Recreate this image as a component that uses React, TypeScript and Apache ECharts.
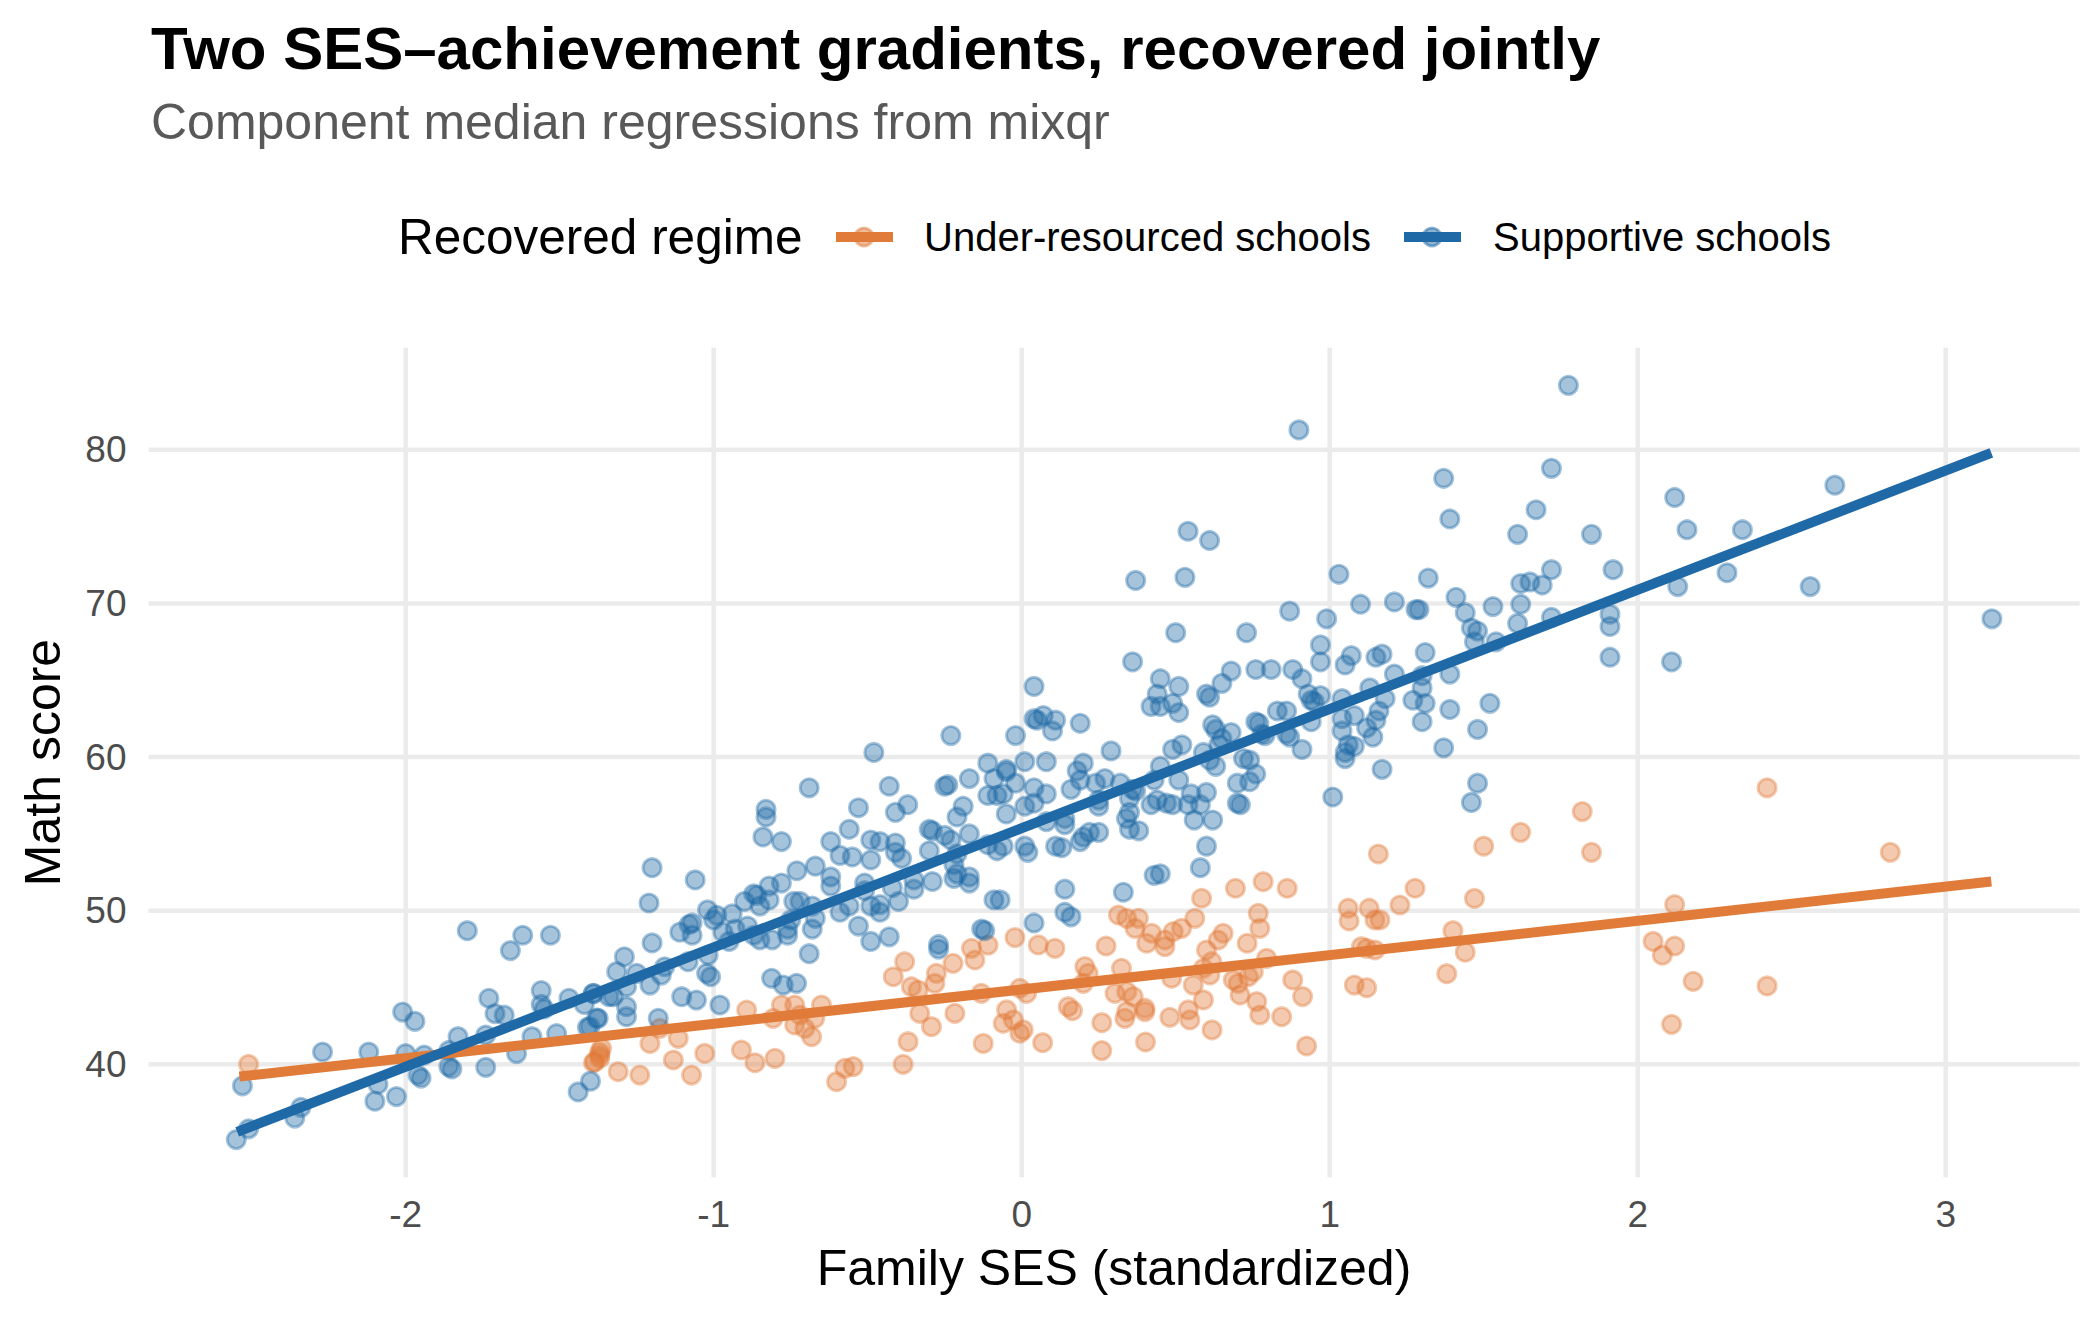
import React, { useEffect, useRef } from "react";
import * as echarts from "echarts";

// ---------- data ----------
const xTicks = [-2, -1, 0, 1, 2, 3];
const yTicks = [40, 50, 60, 70, 80];
const xRange = [-2.835, 3.435];
const yRange = [32.65, 86.65];

const seriesNames = ["Under-resourced schools", "Supportive schools"];

// Component median regression lines (end points)
const underResourcedFit: [number, number][] = [[-2.54, 39.2], [3.148, 51.9]];
const supportiveFit: [number, number][] = [[-2.547, 35.6], [3.148, 79.8]];

const underResourcedPoints: [number, number][] = [
  [-2.51, 40.0], [-1.39, 40.1], [-1.37, 40.8], [-1.37, 40.4],
  [-0.38, 46.68], [-0.417, 45.7], [-0.358, 45.05], [-0.336, 44.83], [-0.277, 45.92], [-0.282, 45.27],
  [-0.223, 46.57], [-0.163, 47.55], [-0.152, 46.79], [-0.109, 47.76], [-0.131, 44.62], [-0.331, 43.32],
  [-0.293, 42.45], [-0.217, 43.32], [-0.369, 41.47], [-0.385, 40.0], [-0.125, 41.36],
  [-0.574, 39.74], [-0.547, 39.85], [-0.601, 38.87], [-0.893, 43.53], [-0.807, 42.99], [-0.78, 43.86],
  [-0.737, 43.86], [-0.72, 43.21], [-0.737, 42.56], [-0.704, 42.34], [-0.682, 41.8], [-0.65, 43.86],
  [-0.672, 42.99], [-0.91, 40.93], [-0.866, 40.1], [-0.801, 40.39], [-1.029, 40.71], [-1.072, 39.3],
  [-1.131, 40.28], [-1.115, 41.69], [-1.175, 42.34], [-1.207, 41.36], [-1.24, 39.3], [-1.31, 39.52],
  [-1.364, 41.04], [-1.37, 40.6], [-1.386, 40.17],
  [-0.022, 48.25], [0.054, 47.77], [0.108, 47.55], [0.274, 47.7], [0.314, 49.72], [0.341, 49.5],
  [0.379, 49.5], [0.368, 48.85], [0.422, 48.53], [0.406, 47.88], [0.465, 48.09], [0.465, 47.66],
  [0.492, 48.64], [0.519, 48.85], [0.562, 49.5], [0.584, 50.81], [0.694, 51.46], [0.784, 51.89],
  [0.862, 51.46], [0.768, 49.83], [0.773, 48.85], [0.732, 47.88], [0.654, 48.53], [0.638, 48.09],
  [0.6, 47.44], [0.617, 46.68], [0.795, 46.9], [0.88, 45.49], [0.912, 44.41], [0.844, 43.1],
  [0.925, 41.19], [0.763, 44.08], [0.773, 43.21], [0.709, 44.51], [0.687, 45.49], [0.703, 45.27],
  [0.736, 45.71], [0.752, 46.03], [0.59, 44.19], [0.557, 45.16], [0.541, 43.54], [0.546, 42.89],
  [0.618, 42.24], [0.481, 43.06], [0.487, 45.6], [0.59, 46.25], [0.611, 45.82], [0.4, 43.65],
  [0.4, 43.43], [0.341, 43.43], [0.335, 42.99], [0.362, 44.41], [0.341, 44.73], [0.303, 44.62],
  [0.324, 46.25], [0.205, 46.36], [0.216, 45.92], [0.2, 45.27], [0.26, 42.71], [0.26, 40.89],
  [0.402, 41.45], [0.151, 43.75], [0.165, 43.49], [0.068, 41.41], [-0.006, 44.95], [0.016, 44.62],
  [-0.049, 43.54], [-0.06, 42.67], [-0.027, 42.89], [-0.006, 42.02], [0.005, 42.24],
  [1.06, 50.16], [1.063, 49.33], [1.128, 50.16], [1.147, 49.4], [1.163, 49.4], [1.228, 50.37],
  [1.277, 51.46], [1.103, 47.66], [1.12, 47.55], [1.147, 47.44], [1.08, 45.16], [1.12, 44.99],
  [1.158, 53.69],
  [2.42, 58.0], [1.82, 56.45], [1.62, 55.1], [1.5, 54.2], [1.85, 53.8], [2.82, 53.8], [1.47, 50.8],
  [1.4, 48.7], [1.44, 47.3], [1.38, 45.9], [2.12, 50.4], [2.05, 48.0], [2.12, 47.7], [2.08, 47.1],
  [2.18, 45.4], [2.42, 45.1], [2.11, 42.6],
];

const supportivePoints: [number, number][] = [
  [-1.8, 48.7], [-1.62, 48.4], [-1.66, 47.4], [-1.53, 48.4], [-2.01, 43.4], [-1.97, 42.8], [-2.27, 40.8],
  [-2.12, 40.8], [-2.0, 40.7], [-1.94, 40.6], [-1.96, 39.3], [-1.95, 39.1], [-1.86, 40.9], [-1.86, 39.85],
  [-1.85, 39.7], [-1.83, 41.8], [-1.74, 41.9], [-1.74, 39.8], [-1.73, 44.3], [-1.71, 43.3], [-1.68, 43.2],
  [-1.64, 40.7], [-1.59, 41.8], [-1.56, 44.8], [-1.56, 43.9], [-1.55, 43.6], [-1.51, 42.0], [-1.47, 44.3],
  [-1.42, 43.9], [-1.41, 42.4], [-1.39, 44.6], [-1.38, 43.0], [-1.4, 38.9], [-1.44, 38.2], [-1.34, 44.4],
  [-2.09, 38.7], [-2.1, 37.6], [-2.03, 37.9], [-2.34, 37.2], [-2.36, 36.5], [-2.53, 38.6], [-2.55, 35.1],
  [-2.51, 35.8],
  [-0.23, 61.4], [-0.48, 60.3], [-0.69, 58.0], [-0.43, 58.1], [-0.25, 58.1], [-0.24, 58.2], [-0.17, 58.6],
  [-0.11, 59.6], [-0.09, 58.6], [-0.11, 57.5], [-0.08, 57.5], [-0.05, 59.05], [-0.05, 56.3], [-0.83, 56.6],
  [-0.83, 56.1], [-0.84, 54.8], [-0.78, 54.5], [-0.53, 56.7], [-0.41, 56.4], [-0.37, 56.9], [-0.19, 56.8],
  [-0.21, 56.1], [-0.56, 55.3], [-0.62, 54.5], [-0.49, 54.6], [-0.46, 54.5], [-0.41, 54.4], [-0.55, 53.5],
  [-0.59, 53.6], [-0.49, 53.3], [-0.41, 53.8], [-0.39, 53.4], [-0.3, 55.3], [-0.29, 55.2], [-0.3, 53.9],
  [-0.25, 54.9], [-0.23, 54.6], [-0.17, 55.0], [-0.21, 53.7], [-0.22, 53.0], [-0.21, 52.4], [-0.17, 52.2],
  [-0.17, 51.8], [-0.09, 50.7], [-0.11, 54.3], [-0.08, 53.9], [-0.22, 52.1], [-0.29, 51.9], [-0.35, 52.0],
  [-0.35, 51.4], [-0.4, 50.6], [-0.42, 51.5], [-0.46, 50.4], [-0.49, 50.3], [-0.46, 49.9], [-0.43, 48.3],
  [-0.49, 48.0], [-0.53, 49.0], [-0.51, 51.3], [-0.51, 51.8], [-0.56, 50.3], [-0.59, 49.9], [-0.62, 52.2],
  [-0.62, 51.6], [-0.67, 52.9], [-0.73, 52.6], [-0.78, 51.8], [-0.82, 51.6], [-0.82, 50.7], [-0.87, 51.1],
  [-0.86, 51.0], [-0.9, 50.6], [-0.85, 50.3], [-0.74, 50.6], [-0.72, 50.6], [-0.68, 50.3], [-0.67, 49.5],
  [-0.68, 48.8], [-0.69, 47.2], [-0.75, 49.4], [-0.76, 48.8], [-0.76, 48.4], [-0.81, 48.1], [-0.85, 48.1],
  [-0.87, 48.4], [-0.89, 49.0], [-0.94, 49.8], [-0.93, 48.8], [-0.97, 48.6], [-0.95, 48.0], [-0.99, 49.7],
  [-1.02, 50.05], [-1.0, 49.4], [-1.08, 49.1], [-1.07, 49.2], [-1.07, 48.4], [-1.11, 48.6], [-1.2, 52.8],
  [-1.06, 52.0], [-1.21, 50.5], [-1.2, 47.9], [-1.29, 47.0], [-0.12, 48.7], [-0.13, 48.8], [-0.27, 47.8],
  [-0.27, 47.5],
  [-1.315, 46.03], [-1.25, 45.92], [-1.207, 45.16], [-1.17, 45.81], [-1.159, 46.35], [-1.283, 45.05],
  [-1.326, 44.4], [-1.391, 44.62], [-1.283, 43.75], [-1.283, 43.1], [-1.375, 42.99], [-1.402, 42.45],
  [-1.18, 42.99], [-1.104, 44.4], [-1.056, 44.18], [-0.98, 43.86], [-1.083, 46.68], [-1.023, 45.92],
  [-1.01, 45.7], [-1.018, 47.11], [-0.812, 45.6], [-0.774, 45.16], [-0.731, 45.27],
  [0.37, 71.5], [0.53, 71.7], [1.03, 71.9], [0.87, 69.5], [0.99, 69.0], [1.1, 69.95], [1.21, 70.1],
  [1.28, 69.6], [0.5, 68.1], [0.73, 68.1], [0.36, 66.2], [0.97, 67.3], [0.97, 66.2], [1.05, 66.0],
  [1.07, 66.6], [1.15, 66.5], [1.17, 66.7], [1.21, 65.4], [0.04, 64.6], [0.45, 65.1], [0.51, 64.6],
  [0.44, 64.1], [0.42, 63.3], [0.45, 63.3], [0.49, 63.5], [0.51, 62.9], [0.6, 64.1], [0.61, 63.9],
  [0.65, 64.8], [0.68, 65.6], [0.76, 65.7], [0.81, 65.7], [0.88, 65.7], [0.91, 65.1], [0.93, 64.1],
  [0.94, 63.7], [0.95, 63.6], [0.97, 64.0], [1.04, 63.8], [1.13, 64.5], [1.18, 63.8], [1.16, 63.0],
  [1.15, 62.4], [1.12, 61.9], [1.14, 61.3], [1.04, 62.5], [1.08, 62.7], [1.04, 61.7], [1.06, 60.8],
  [1.05, 60.3], [1.05, 59.9], [1.08, 60.7], [1.17, 59.2], [1.01, 57.4], [0.94, 62.3], [0.83, 63.0],
  [0.86, 63.0], [0.76, 62.3], [0.77, 62.2], [0.78, 61.5], [0.79, 61.4], [0.86, 61.5], [0.87, 61.3],
  [0.91, 60.5], [0.62, 62.1], [0.63, 61.8], [0.68, 61.6], [0.65, 61.2], [0.64, 60.8], [0.52, 60.8],
  [0.49, 60.5], [0.59, 60.3], [0.61, 59.8], [0.63, 59.4], [0.72, 59.9], [0.74, 59.8], [0.76, 58.9],
  [0.7, 58.3], [0.74, 58.4], [0.7, 57.0], [0.71, 56.9], [0.6, 57.7], [0.55, 57.6], [0.58, 56.9],
  [0.54, 56.9], [0.56, 55.9], [0.62, 55.9], [0.6, 54.2], [0.58, 52.8], [0.51, 58.5], [0.45, 59.4],
  [0.43, 58.5], [0.42, 56.9], [0.44, 57.2], [0.47, 57.0], [0.49, 56.9], [0.45, 52.4], [0.43, 52.3],
  [0.33, 51.2], [0.14, 51.4], [0.38, 55.2], [0.35, 55.3], [0.34, 56.0], [0.35, 56.4], [0.35, 57.3],
  [0.36, 57.9], [0.37, 57.8], [0.32, 58.3], [0.29, 60.4], [0.25, 57.2], [0.27, 58.6], [0.24, 58.3],
  [0.25, 56.8], [0.25, 55.1], [0.22, 55.1], [0.2, 54.8], [0.19, 54.5], [0.2, 59.6], [0.19, 58.5],
  [0.18, 59.1], [0.16, 57.9], [0.14, 56.0], [0.14, 55.6], [0.13, 54.1], [0.11, 54.2], [0.08, 55.8],
  [0.08, 57.6], [0.08, 59.7], [0.04, 58.0], [0.01, 59.7], [-0.02, 58.3], [-0.02, 61.4], [-0.05, 59.2],
  [-0.06, 57.6], [-0.06, 54.2], [0.01, 54.2], [0.02, 53.8], [0.04, 62.5], [0.05, 62.4], [0.07, 62.7],
  [0.11, 62.4], [0.1, 61.7], [0.19, 62.2], [0.01, 56.8], [0.04, 57.0],
  [0.14, 49.9], [0.16, 49.6], [0.04, 49.2], [-0.07, 50.7],
  [0.9, 81.3], [0.54, 74.7], [0.61, 74.1],
  [1.775, 84.2], [1.37, 78.15], [1.72, 78.8], [1.39, 75.5], [1.67, 76.1], [1.61, 74.5], [1.85, 74.5],
  [2.12, 76.9], [2.16, 74.8], [2.34, 74.8], [2.64, 77.7], [2.29, 72.0], [2.13, 71.1], [2.56, 71.1],
  [3.15, 69.0], [2.11, 66.2], [1.32, 71.65], [1.29, 69.6], [1.41, 70.4], [1.44, 69.4], [1.53, 69.8],
  [1.46, 68.4], [1.48, 68.2], [1.47, 67.5], [1.54, 67.5], [1.61, 68.7], [1.62, 69.95], [1.62, 71.3],
  [1.65, 71.4], [1.69, 71.2], [1.72, 72.2], [1.72, 69.1], [1.92, 72.2], [1.91, 69.3], [1.91, 68.5],
  [1.91, 66.5], [1.31, 66.8], [1.3, 65.3], [1.3, 64.5], [1.27, 63.7], [1.31, 63.5], [1.3, 62.3],
  [1.37, 60.6], [1.39, 63.1], [1.39, 65.4], [1.52, 63.5], [1.48, 61.8], [1.48, 58.3], [1.46, 57.05],
];

// ---------- styling ----------
const ORANGE = "#e07b39";
const BLUE = "#1f69a6";
const ORANGE_A = "rgba(224,123,57,0.5)";
const BLUE_A = "rgba(31,105,166,0.5)";
const FONT = "'Liberation Sans', Arial, Helvetica, sans-serif";
const GRID = { left: 148.5, top: 347.7, width: 1931.2, height: 829.5 };

function gridLineSeries() {
  const base = {
    type: "line",
    symbol: "none",
    showSymbol: false,
    silent: true,
    z: 1,
    emphasis: { disabled: true },
    lineStyle: { color: "#ebebeb", width: 4.5 },
  };
  return [
    ...xTicks.map((t) => ({ ...base, data: [[t, yRange[0]], [t, yRange[1]]] })),
    ...yTicks.map((t) => ({ ...base, data: [[xRange[0], t], [xRange[1], t]] })),
  ];
}

function legendGraphic() {
  const cy = 237;
  const key = (x0: number, color: string, fill: string) => [
    {
      type: "circle",
      shape: { cx: x0 + 28, cy, r: 9 },
      style: { fill, stroke: fill, lineWidth: 3 },
    },
    {
      type: "line",
      shape: { x1: x0, y1: cy, x2: x0 + 57, y2: cy },
      style: { stroke: color, lineWidth: 10 },
    },
  ];
  return [
    {
      type: "text",
      x: 398,
      y: 236,
      style: { text: "Recovered regime", font: `49.5px ${FONT}`, fill: "#000", align: "left", verticalAlign: "middle" },
    },
    ...key(836, ORANGE, ORANGE_A),
    {
      type: "text",
      x: 924,
      y: 237,
      style: { text: seriesNames[0], font: `40px ${FONT}`, fill: "#000", align: "left", verticalAlign: "middle" },
    },
    ...key(1404, BLUE, BLUE_A),
    {
      type: "text",
      x: 1493,
      y: 237,
      style: { text: seriesNames[1], font: `40px ${FONT}`, fill: "#000", align: "left", verticalAlign: "middle" },
    },
  ];
}

function buildOption() {
  const isTick = (v: number, ticks: number[]) => ticks.some((t) => Math.abs(t - v) < 1e-6);
  return {
    animation: false,
    backgroundColor: "#ffffff",
    grid: GRID,
    xAxis: {
      type: "value",
      min: xRange[0],
      max: xRange[1],
      axisLine: { show: false },
      axisTick: { show: false },
      splitLine: { show: false },
      axisLabel: {
        customValues: xTicks,
        formatter: (v: number) => (isTick(v, xTicks) ? String(Math.round(v)) : ""),
        color: "#4d4d4d",
        fontSize: 37,
        fontFamily: FONT,
        margin: 19,
      },
    },
    yAxis: {
      type: "value",
      min: yRange[0],
      max: yRange[1],
      axisLine: { show: false },
      axisTick: { show: false },
      splitLine: { show: false },
      axisLabel: {
        customValues: yTicks,
        formatter: (v: number) => (isTick(v, yTicks) ? String(Math.round(v)) : ""),
        color: "#4d4d4d",
        fontSize: 37,
        fontFamily: FONT,
        margin: 22,
      },
    },
    series: [
      ...gridLineSeries(),
      {
        name: seriesNames[0],
        type: "scatter",
        data: underResourcedPoints,
        symbol: "circle",
        symbolSize: 18,
        z: 2,
        silent: true,
        emphasis: { disabled: true },
        itemStyle: { color: ORANGE_A, borderColor: ORANGE_A, borderWidth: 3 },
      },
      {
        name: seriesNames[1],
        type: "scatter",
        data: supportivePoints,
        symbol: "circle",
        symbolSize: 18,
        z: 2,
        silent: true,
        emphasis: { disabled: true },
        itemStyle: { color: BLUE_A, borderColor: BLUE_A, borderWidth: 3 },
      },
      {
        name: seriesNames[0] + " fit",
        type: "line",
        data: underResourcedFit,
        symbol: "none",
        showSymbol: false,
        z: 3,
        silent: true,
        emphasis: { disabled: true },
        lineStyle: { color: ORANGE, width: 10, cap: "butt" },
      },
      {
        name: seriesNames[1] + " fit",
        type: "line",
        data: supportiveFit,
        symbol: "none",
        showSymbol: false,
        z: 3,
        silent: true,
        emphasis: { disabled: true },
        lineStyle: { color: BLUE, width: 10, cap: "butt" },
      },
    ],
    graphic: [
      {
        type: "text",
        x: 151,
        y: 48,
        style: {
          text: "Two SES\u2013achievement gradients, recovered jointly",
          font: `bold 60px ${FONT}`,
          fill: "#000",
          align: "left",
          verticalAlign: "middle",
        },
      },
      {
        type: "text",
        x: 151,
        y: 122,
        style: {
          text: "Component median regressions from mixqr",
          font: `50px ${FONT}`,
          fill: "#595959",
          align: "left",
          verticalAlign: "middle",
        },
      },
      ...legendGraphic(),
      {
        type: "text",
        x: 1114,
        y: 1267.5,
        style: {
          text: "Family SES (standardized)",
          font: `50px ${FONT}`,
          fill: "#000",
          align: "center",
          verticalAlign: "middle",
        },
      },
      {
        type: "text",
        x: 43,
        y: 762.5,
        rotation: Math.PI / 2,
        style: {
          text: "Math score",
          font: `50px ${FONT}`,
          fill: "#000",
          align: "center",
          verticalAlign: "middle",
        },
      },
    ],
  };
}

export default function App() {
  const ref = useRef<HTMLDivElement>(null);
  useEffect(() => {
    document.body.style.margin = "0";
    const chart = echarts.init(ref.current as HTMLDivElement, null, {
      renderer: "svg",
      width: 2100,
      height: 1320,
    });
    chart.setOption(buildOption() as any);
    return () => {
      chart.dispose();
    };
  }, []);
  return (
    <div
      ref={ref}
      style={{ position: "absolute", left: 0, top: 0, width: 2100, height: 1320, background: "#fff" }}
    />
  );
}
